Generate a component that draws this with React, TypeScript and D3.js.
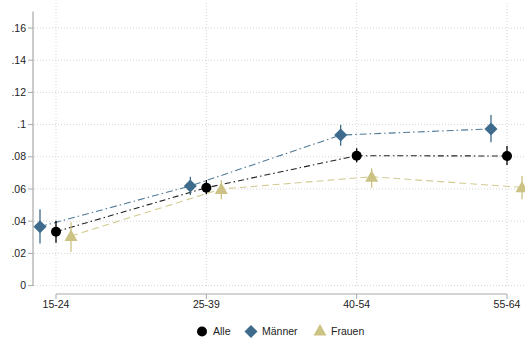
import React from "react";
import * as d3 from "d3";

const categories = ["15-24", "25-39", "40-54", "55-64"];
const yTicks = [0, 0.02, 0.04, 0.06, 0.08, 0.1, 0.12, 0.14, 0.16];
const yTickLabels = ["0", ".02", ".04", ".06", ".08", ".1", ".12", ".14", ".16"];

const alleVal = [0.0335, 0.0608, 0.0807, 0.0805];
const alleLo = [0.0266, 0.0567, 0.0766, 0.0749];
const alleHi = [0.0403, 0.0656, 0.0853, 0.0867];

const maennerVal = [0.0366, 0.0619, 0.0935, 0.0973];
const maennerLo = [0.0262, 0.0563, 0.0869, 0.089];
const maennerHi = [0.0474, 0.0676, 0.0998, 0.106];

const frauenVal = [0.0308, 0.06, 0.0676, 0.061];
const frauenLo = [0.021, 0.0536, 0.0608, 0.0536];
const frauenHi = [0.0393, 0.0656, 0.0729, 0.068];

const seriesNames = ["Alle", "Männer", "Frauen"];

const W = 525, H = 340;
const FONT = "'Liberation Sans', Arial, sans-serif";

export default function App() {
  const x = d3.scalePoint<string>().domain(categories).range([56, 507]);
  const y = d3.scaleLinear().domain([0, 0.16]).range([285.6, 28]);

  const series = [
    { name: "Männer", val: maennerVal, lo: maennerLo, hi: maennerHi, color: "#3e6b8c", line: "#4f7a98", dash: "7,3,1.5,3", off: -16, shape: "diamond" },
    { name: "Frauen", val: frauenVal, lo: frauenLo, hi: frauenHi, color: "#cbc283", line: "#d3cb92", dash: "7,4", off: 15, shape: "triangle" },
    { name: "Alle", val: alleVal, lo: alleLo, hi: alleHi, color: "#000000", line: "#222222", dash: "6,3,1.5,3", off: 0, shape: "circle" },
  ];

  const line = d3.line<[number, number]>().x(d => d[0]).y(d => d[1]).curve(d3.curveLinear);

  const marker = (shape: string, cx: number, cy: number, color: string, key: string) => {
    if (shape === "circle") return <circle key={key} cx={cx} cy={cy} r={5} fill={color} />;
    if (shape === "diamond") {
      const s = 6.5;
      return <path key={key} d={`M${cx},${cy - s}L${cx + s},${cy}L${cx},${cy + s}L${cx - s},${cy}Z`} fill={color} />;
    }
    const s = 6.5;
    return <path key={key} d={`M${cx},${cy - s}L${cx + s},${cy + s * 0.75}L${cx - s},${cy + s * 0.75}Z`} fill={color} />;
  };

  return (
    <svg width={W} height={H} style={{ display: "block", position: "absolute", left: 0, top: 0, background: "#fff" }} fontFamily={FONT}>
      <rect width={W} height={H} fill="#fff" />
      {/* grid */}
      {yTicks.map((t, i) => (
        <line key={"gy" + i} x1={34} x2={525} y1={y(t)} y2={y(t)} stroke="#d4d4d4" strokeWidth={1} strokeDasharray="1,2" />
      ))}
      {categories.map(c => (
        <line key={"gx" + c} x1={x(c)!} x2={x(c)!} y1={3} y2={286} stroke="#d4d4d4" strokeWidth={1} strokeDasharray="1,2" />
      ))}
      {/* y axis */}
      <line x1={33} x2={33} y1={11.5} y2={286} stroke="#a8a8a8" strokeWidth={1.2} />
      {yTicks.map((t, i) => (
        <g key={"yt" + i}>
          <line x1={28} x2={33} y1={y(t)} y2={y(t)} stroke="#a8a8a8" strokeWidth={1} />
          <text x={26} y={y(t)} dy="0.35em" textAnchor="end" fontSize={10.5} fill="#222">{yTickLabels[i]}</text>
        </g>
      ))}
      {/* x axis */}
      <line x1={x(categories[0])!} x2={x(categories[3])!} y1={294} y2={294} stroke="#a8a8a8" strokeWidth={1.2} />
      {categories.map(c => (
        <g key={"xt" + c}>
          <line x1={x(c)!} x2={x(c)!} y1={294} y2={299} stroke="#a8a8a8" strokeWidth={1} />
          <text x={x(c)!} y={308} textAnchor="middle" fontSize={10.5} fill="#222">{c}</text>
        </g>
      ))}
      {/* lines */}
      {series.map(s => (
        <path key={"l" + s.name}
          d={line(s.val.map((v, i) => [x(categories[i])! + s.off, y(v)]))!}
          fill="none" stroke={s.line} strokeWidth={1.1} strokeDasharray={s.dash} />
      ))}
      {/* error bars */}
      {series.map(s => s.val.map((v, i) => {
        const cx = x(categories[i])! + s.off;
        return (
          <g key={"e" + s.name + i}>
            <line x1={cx} x2={cx} y1={y(s.lo[i])} y2={y(s.hi[i])} stroke={s.color} strokeWidth={1.3} />
          </g>
        );
      }))}
      {/* markers */}
      {series.map(s => s.val.map((v, i) => marker(s.shape, x(categories[i])! + s.off, y(v), s.color, "m" + s.name + i)))}
      {/* legend */}
      <g fontSize={10.5} fill="#222">
        {marker("circle", 202, 331.5, "#000", "lg1")}
        <text x={213} y={331.5} dy="0.35em">{seriesNames[0]}</text>
        {marker("diamond", 251, 331.5, "#3e6b8c", "lg2")}
        <text x={262} y={331.5} dy="0.35em">{seriesNames[1]}</text>
        {marker("triangle", 320, 330.5, "#cbc283", "lg3")}
        <text x={331} y={331.5} dy="0.35em">{seriesNames[2]}</text>
      </g>
    </svg>
  );
}
